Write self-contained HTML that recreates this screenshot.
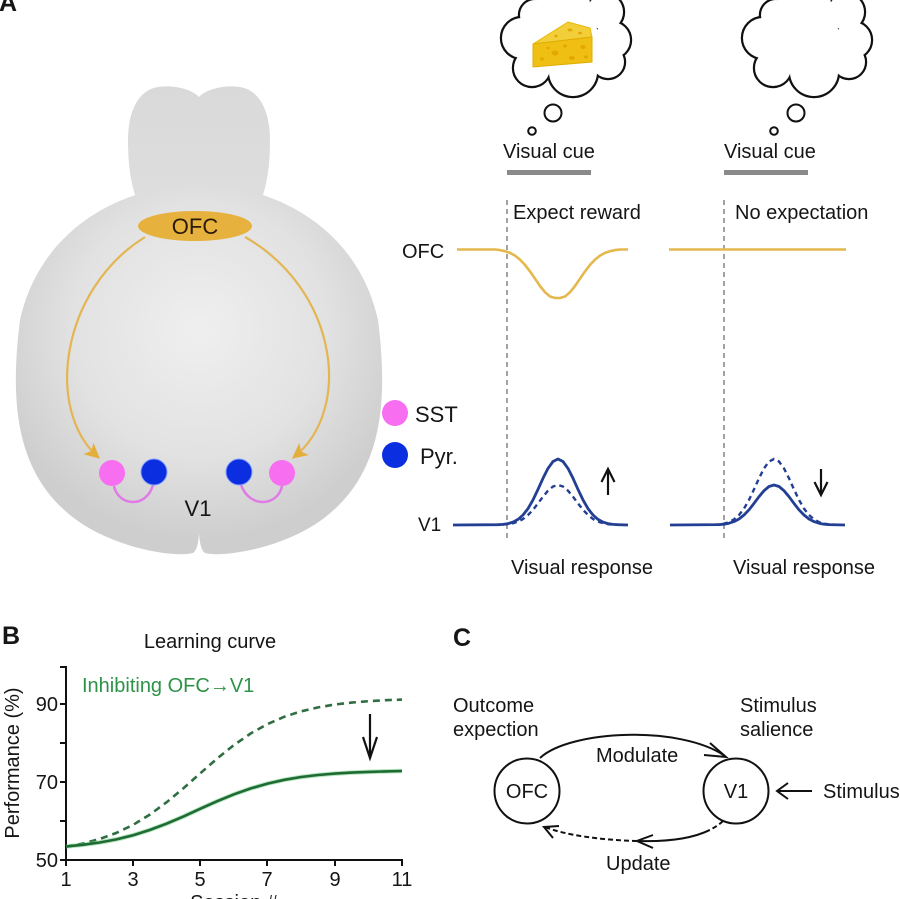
<!DOCTYPE html>
<html>
<head>
<meta charset="utf-8">
<style>
html,body{margin:0;padding:0;background:#fff;}
svg{display:block;}
text{font-family:"Liberation Sans",Arial,sans-serif;fill:#151515;}
</style>
</head>
<body>
<svg width="900" height="899" viewBox="0 0 900 899" xmlns="http://www.w3.org/2000/svg">
<defs>
  <radialGradient id="bg" cx="199" cy="330" r="210" gradientUnits="userSpaceOnUse">
    <stop offset="0" stop-color="#efefef"/>
    <stop offset="0.6" stop-color="#e2e2e2"/>
    <stop offset="1" stop-color="#cecece"/>
  </radialGradient>
  <linearGradient id="lg" x1="0" y1="0" x2="0" y2="1">
    <stop offset="0" stop-color="#d9d9d9"/>
    <stop offset="1" stop-color="#dedede"/>
  </linearGradient>
  <marker id="gold" viewBox="0 0 12 12" refX="10" refY="6" markerWidth="7" markerHeight="7" orient="auto" markerUnits="strokeWidth">
    <path d="M0,0 L12,6 L0,12 L3,6 Z" fill="#e3ae3c"/>
  </marker>
</defs>

<!-- Panel A label -->
<text x="-1" y="11" font-size="25" font-weight="bold">A</text>

<!-- Brain -->
<path d="M199,97 C190,88 172,85 158,87 C138,90 128,112 128,140 C128,170 132,190 140,208 L258,208 C266,190 270,170 270,140 C270,112 260,90 240,87 C226,85 208,88 199,97 Z" fill="url(#lg)"/>
<path d="M199,185 C120,185 40,230 20,320 C10,400 15,470 70,515 C110,548 175,558 193,553 Q198,550 199,533 Q200,550 205,553 C223,558 288,548 328,515 C383,470 388,400 378,320 C358,230 278,185 199,185 Z" fill="url(#bg)"/>

<!-- OFC ellipse -->
<ellipse cx="195" cy="226" rx="57" ry="15" fill="#e6b13d"/>
<text x="195" y="234" font-size="22" text-anchor="middle" style="fill:#2a1a08">OFC</text>

<!-- Golden arrows -->
<path d="M145,237 C60,290 45,410 98,457" fill="none" stroke="#e3b553" stroke-width="2.2" marker-end="url(#gold)"/>
<path d="M245,237 C338,290 353,410 294,457" fill="none" stroke="#e3b553" stroke-width="2.2" marker-end="url(#gold)"/>

<!-- Neurons -->
<path d="M114,486 C118,506 146,509 153,485" fill="none" stroke="#e07be6" stroke-width="2.5"/>
<path d="M282,486 C278,506 250,509 241,485" fill="none" stroke="#e07be6" stroke-width="2.5"/>
<circle cx="112" cy="473" r="13" fill="#f76ef0"/>
<circle cx="154" cy="472" r="13" fill="#0b2ee0" stroke="#7f9cff" stroke-width="1"/>
<circle cx="239" cy="472" r="13" fill="#0b2ee0" stroke="#7f9cff" stroke-width="1"/>
<circle cx="282" cy="473" r="13" fill="#f76ef0"/>
<text x="198" y="516" font-size="22" text-anchor="middle">V1</text>

<!-- Legend -->
<circle cx="395" cy="413" r="13" fill="#f76ef0"/>
<text x="415" y="422" font-size="22">SST</text>
<circle cx="395" cy="455" r="13" fill="#0b2ee0"/>
<text x="420" y="464" font-size="22">Pyr.</text>

<!-- Clouds -->
<g id="cloud1">
  <g fill="#111" stroke="#111" stroke-width="4.4">
    <circle cx="522" cy="38" r="20"/><circle cx="532" cy="68" r="18"/><circle cx="573" cy="72" r="24"/>
    <circle cx="608" cy="62" r="16"/><circle cx="612" cy="40" r="18"/><circle cx="605" cy="12" r="18"/>
    <circle cx="563" cy="5" r="27"/><circle cx="535" cy="15" r="15"/><circle cx="567" cy="40" r="32"/>
  </g>
  <g fill="#fff">
    <circle cx="522" cy="38" r="20"/><circle cx="532" cy="68" r="18"/><circle cx="573" cy="72" r="24"/>
    <circle cx="608" cy="62" r="16"/><circle cx="612" cy="40" r="18"/><circle cx="605" cy="12" r="18"/>
    <circle cx="563" cy="5" r="27"/><circle cx="535" cy="15" r="15"/><circle cx="567" cy="40" r="32"/>
  </g>
</g>
<g transform="translate(241,0)">
  <g fill="#111" stroke="#111" stroke-width="4.4">
    <circle cx="522" cy="38" r="20"/><circle cx="532" cy="68" r="18"/><circle cx="573" cy="72" r="24"/>
    <circle cx="608" cy="62" r="16"/><circle cx="612" cy="40" r="18"/><circle cx="605" cy="12" r="18"/>
    <circle cx="563" cy="5" r="27"/><circle cx="535" cy="15" r="15"/><circle cx="567" cy="40" r="32"/>
  </g>
  <g fill="#fff">
    <circle cx="522" cy="38" r="20"/><circle cx="532" cy="68" r="18"/><circle cx="573" cy="72" r="24"/>
    <circle cx="608" cy="62" r="16"/><circle cx="612" cy="40" r="18"/><circle cx="605" cy="12" r="18"/>
    <circle cx="563" cy="5" r="27"/><circle cx="535" cy="15" r="15"/><circle cx="567" cy="40" r="32"/>
  </g>
</g>

<!-- Cheese -->
<polygon points="533,44 568,22 590,28 592,37" fill="#f2cf3a" stroke="#e8b800" stroke-width="1"/>
<polygon points="533,44 592,37 592,62 533,67" fill="#efbf14" stroke="#e0ad00" stroke-width="1"/>
<g fill="#e2a800">
  <ellipse cx="555" cy="53" rx="3.5" ry="2.5"/><ellipse cx="572" cy="58" rx="3" ry="2"/>
  <ellipse cx="583" cy="47" rx="2.5" ry="2"/><ellipse cx="542" cy="59" rx="2" ry="1.6"/>
  <ellipse cx="565" cy="46" rx="2" ry="1.5"/><ellipse cx="548" cy="48" rx="1.6" ry="1.3"/>
  <ellipse cx="586" cy="57" rx="2" ry="1.6"/><ellipse cx="570" cy="30" rx="2.5" ry="1.5"/>
  <ellipse cx="580" cy="33" rx="2" ry="1.3"/><ellipse cx="556" cy="36" rx="1.8" ry="1.3"/>
</g>

<!-- Thought bubbles -->
<g fill="none" stroke="#111" stroke-width="2">
  <circle cx="553" cy="113" r="8.5"/><circle cx="532" cy="131" r="3.8"/>
  <circle cx="796" cy="113" r="8.5"/><circle cx="774" cy="131" r="3.8"/>
</g>

<!-- Visual cue -->
<text x="503" y="158" font-size="20">Visual cue</text>
<text x="724" y="158" font-size="20">Visual cue</text>
<rect x="507" y="170" width="84" height="5" fill="#8a8a8a"/>
<rect x="724" y="170" width="84" height="5" fill="#8a8a8a"/>

<text x="513" y="219" font-size="20">Expect reward</text>
<text x="735" y="219" font-size="20">No expectation</text>

<!-- dashed verticals -->
<line x1="507" y1="200" x2="507" y2="542" stroke="#8c8c8c" stroke-width="1.6" stroke-dasharray="5,4"/>
<line x1="724" y1="200" x2="724" y2="542" stroke="#8c8c8c" stroke-width="1.6" stroke-dasharray="5,4"/>

<!-- OFC traces -->
<text x="402" y="258" font-size="20">OFC</text>
<path d="M457,249.5 L495,249.5 L500,250.1 L505,251.2 L510,252.9 L515,255.6 L520,259.6 L525,264.9 L530,271.4 L535,278.7 L540,286 L545,292.2 L550,296.5 L555,298 L560,298 L565,296.5 L570,292.2 L575,286 L580,278.7 L585,271.4 L590,264.9 L595,259.6 L600,255.6 L605,252.9 L610,251.2 L615,250.1 L620,249.5 L628,249.5" fill="none" stroke="#e4b84c" stroke-width="2.6" stroke-linejoin="round"/>
<line x1="669" y1="249.5" x2="846" y2="249.5" stroke="#e4b84c" stroke-width="2.6"/>

<!-- V1 traces -->
<text x="418" y="531" font-size="19">V1</text>
<g fill="none" stroke="#233f94" stroke-width="2.8" stroke-linejoin="round">
  <path d="M453,525 L498,524.7 L503,524.4 L508,523.6 L513,522.1 L518,519.4 L523,515 L528,508.6 L533,499.9 L538,489.4 L543,478.3 L548,468.4 L553,461.5 L558,459 L563,461.5 L568,468.4 L573,478.3 L578,489.4 L583,499.9 L588,508.6 L593,515 L598,519.4 L603,522.1 L608,523.6 L613,524.4 L618,524.7 L628,525"/>
  <path d="M670,525 L719,524.6 L724,524.2 L729,523.2 L734,521.6 L739,519 L744,515 L749,509.8 L754,503.4 L759,496.7 L764,490.7 L769,486.5 L774,485 L779,486.5 L784,490.7 L789,496.7 L794,503.4 L799,509.8 L804,515 L809,519 L814,521.6 L819,523.2 L824,524.2 L829,524.6 L845,525"/>
</g>
<g fill="none" stroke="#233f94" stroke-width="2.4" stroke-dasharray="5,4" stroke-linejoin="round">
  <path d="M503,524.6 L508,524.2 L513,523.2 L518,521.6 L523,519 L528,515 L533,509.8 L538,503.4 L543,496.7 L548,490.7 L553,486.5 L558,485 L563,486.5 L568,490.7 L573,496.7 L578,503.4 L583,509.8 L588,515 L593,519 L598,521.6 L603,523.2 L608,524.2 L613,524.6"/>
  <path d="M714,524.7 L719,524.4 L724,523.6 L729,522.1 L734,519.4 L739,515 L744,508.6 L749,499.9 L754,489.4 L759,478.3 L764,468.4 L769,461.5 L774,459 L779,461.5 L784,468.4 L789,478.3 L794,489.4 L799,499.9 L804,508.6 L809,515 L814,519.4 L819,522.1 L824,523.6 L829,524.4 L834,524.7"/>
</g>
<!-- arrows -->
<g fill="none" stroke="#111" stroke-width="2.2">
  <line x1="608" y1="495" x2="608" y2="470"/>
  <polyline points="601.5,482 608,469 614.5,482"/>
  <line x1="821" y1="469" x2="821" y2="494"/>
  <polyline points="814.5,482 821,495 827.5,482"/>
</g>
<text x="511" y="574" font-size="20">Visual response</text>
<text x="733" y="574" font-size="20">Visual response</text>

<!-- Panel B -->
<text x="2" y="644" font-size="25" font-weight="bold">B</text>
<text x="210" y="648" font-size="20" text-anchor="middle">Learning curve</text>
<g stroke="#111" stroke-width="2" fill="none">
  <line x1="66" y1="666" x2="66" y2="861"/>
  <line x1="65" y1="860" x2="403" y2="860"/>
  <line x1="60" y1="860" x2="66" y2="860"/>
  <line x1="60" y1="821" x2="66" y2="821"/>
  <line x1="60" y1="782" x2="66" y2="782"/>
  <line x1="60" y1="743" x2="66" y2="743"/>
  <line x1="60" y1="704" x2="66" y2="704"/>
  <line x1="60" y1="667" x2="66" y2="667"/>
  <line x1="66" y1="860" x2="66" y2="866"/>
  <line x1="133" y1="860" x2="133" y2="866"/>
  <line x1="200" y1="860" x2="200" y2="866"/>
  <line x1="267" y1="860" x2="267" y2="866"/>
  <line x1="335" y1="860" x2="335" y2="866"/>
  <line x1="402" y1="860" x2="402" y2="866"/>
</g>
<g font-size="20" text-anchor="end">
  <text x="58" y="711">90</text>
  <text x="58" y="789">70</text>
  <text x="58" y="867">50</text>
</g>
<g font-size="20" text-anchor="middle">
  <text x="66" y="886">1</text>
  <text x="133" y="886">3</text>
  <text x="200" y="886">5</text>
  <text x="267" y="886">7</text>
  <text x="335" y="886">9</text>
  <text x="402" y="886">11</text>
</g>
<text x="234" y="909" font-size="20" text-anchor="middle">Session #</text>
<text transform="translate(19,763) rotate(-90)" font-size="20" text-anchor="middle">Performance (%)</text>
<text x="82" y="692" font-size="20" style="fill:#2e9247">Inhibiting OFC→V1</text>

<path d="M66,846.8 L82.8,843.5 L99.6,839 L116.4,832.9 L133.2,824.8 L150,814.5 L166.8,802.1 L183.6,788.1 L200.4,773.2 L217.2,758.5 L234,745 L250.8,733.4 L267.6,724 L284.4,716.7 L301.2,711.3 L318,707.4 L334.8,704.5 L351.6,702.6 L368.4,701.2 L385.2,700.2 L402,699.6" fill="none" stroke="#2f6e42" stroke-width="2.6" stroke-dasharray="7,5"/>
<path d="M66,846.5 L82.8,844.8 L99.6,842.5 L116.4,839.4 L133.2,835.2 L150,829.9 L166.8,823.6 L183.6,816.4 L200.4,808.7 L217.2,801.2 L234,794.3 L250.8,788.4 L267.6,783.6 L284.4,779.8 L301.2,777 L318,775 L334.8,773.6 L351.6,772.6 L368.4,771.9 L385.2,771.4 L402,771" fill="none" stroke="#6ad07a" stroke-width="4.5" opacity="0.5"/>
<path d="M66,846.5 L82.8,844.8 L99.6,842.5 L116.4,839.4 L133.2,835.2 L150,829.9 L166.8,823.6 L183.6,816.4 L200.4,808.7 L217.2,801.2 L234,794.3 L250.8,788.4 L267.6,783.6 L284.4,779.8 L301.2,777 L318,775 L334.8,773.6 L351.6,772.6 L368.4,771.9 L385.2,771.4 L402,771" fill="none" stroke="#1f6a35" stroke-width="2.6"/>
<g fill="none" stroke="#111" stroke-width="2.2">
  <line x1="370" y1="714" x2="370" y2="756"/>
  <polyline points="363,737 370,758 377,737"/>
</g>

<!-- Panel C -->
<text x="453" y="646" font-size="25" font-weight="bold">C</text>
<text x="453" y="712" font-size="20">Outcome</text>
<text x="453" y="736" font-size="20">expection</text>
<text x="740" y="712" font-size="20">Stimulus</text>
<text x="740" y="736" font-size="20">salience</text>
<circle cx="527" cy="791" r="32.5" fill="none" stroke="#111" stroke-width="2"/>
<circle cx="736" cy="791" r="32.5" fill="none" stroke="#111" stroke-width="2"/>
<text x="527" y="798" font-size="20" text-anchor="middle">OFC</text>
<text x="736" y="798" font-size="20" text-anchor="middle">V1</text>
<g fill="none" stroke="#111" stroke-width="2">
  <path d="M540,758 C570,730 680,725 725,756"/>
  <polyline points="710,743 726,757 704,755"/>
  <path d="M723,821 C705,838 670,842 637,841" stroke-dasharray="5,3,5,3,200"/>
  <path d="M637,841 C600,840 565,835 545,827" stroke-dasharray="5,3"/>
  <polyline points="653,835 637,841 653,848"/>
  <polyline points="559,826 544,827 553,838"/>
  <line x1="812" y1="791" x2="778" y2="791"/>
  <polyline points="788,783 777,791 788,799"/>
</g>
<text x="596" y="762" font-size="20">Modulate</text>
<text x="606" y="870" font-size="20">Update</text>
<text x="823" y="798" font-size="20">Stimulus</text>
</svg>
</body>
</html>
